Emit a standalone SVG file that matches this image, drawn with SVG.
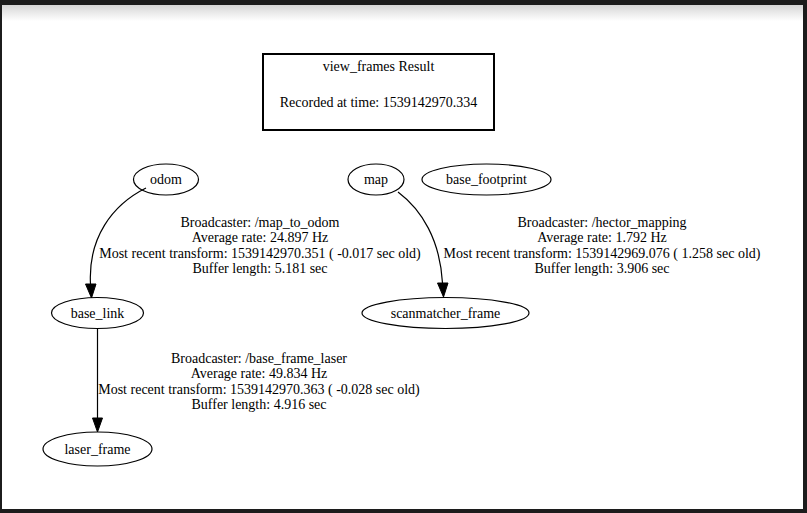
<svg xmlns="http://www.w3.org/2000/svg" width="807" height="513" viewBox="0 0 807 513">
<defs>
<linearGradient id="shade" x1="0" y1="0" x2="0" y2="1">
<stop offset="0" stop-color="#d6d6d6"/>
<stop offset="1" stop-color="#ffffff"/>
</linearGradient>
<style>
text{font-family:"Liberation Serif","Times New Roman",serif;font-size:14px;fill:#000;text-anchor:middle}
.node ellipse{fill:none;stroke:#000;stroke-width:1.2}
.edge path{fill:none;stroke:#000;stroke-width:1.2}
.edge polygon{fill:#000;stroke:#000;stroke-width:1}
</style>
</defs>
<rect x="0" y="0" width="807" height="513" fill="#1c1c1c"/>
<rect x="2" y="5" width="801" height="504" fill="#ffffff"/>
<rect x="2" y="5" width="801" height="16" fill="url(#shade)"/>

<g id="title">
<rect x="263" y="54" width="231" height="76" fill="none" stroke="#000" stroke-width="2"/>
<text x="378.5" y="70.5">view_frames Result</text>
<text x="378.5" y="107">Recorded at time: 1539142970.334</text>
</g>

<g id="connectors">
<g class="edge" id="e_odom_base_link">
<path d="M146,188 C112,205 88,238 90.5,284"/>
<polygon points="85.5,284 96,284 91.5,298"/>
<text x="260" y="226.5">Broadcaster: /map_to_odom</text>
<text x="260" y="242">Average rate: 24.897 Hz</text>
<text x="260" y="257.5">Most recent transform: 1539142970.351 ( -0.017 sec old)</text>
<text x="260" y="273">Buffer length: 5.181 sec</text>
</g>
<g class="edge" id="e_map_scanmatcher">
<path d="M398,192 C422,210 440,240 442.5,283"/>
<polygon points="437.5,283 448,283 443.5,297"/>
<text x="602" y="226.5">Broadcaster: /hector_mapping</text>
<text x="602" y="242">Average rate: 1.792 Hz</text>
<text x="602" y="257.5">Most recent transform: 1539142969.076 ( 1.258 sec old)</text>
<text x="602" y="273">Buffer length: 3.906 sec</text>
</g>
<g class="edge" id="e_base_link_laser">
<path d="M97.5,328 L97.5,418"/>
<polygon points="92.5,418 102.5,418 97.5,432"/>
<text x="259" y="362.5">Broadcaster: /base_frame_laser</text>
<text x="259" y="378">Average rate: 49.834 Hz</text>
<text x="259" y="393.5">Most recent transform: 1539142970.363 ( -0.028 sec old)</text>
<text x="259" y="409">Buffer length: 4.916 sec</text>
</g>
</g>

<g class="node" id="odom">
<ellipse cx="166" cy="179.5" rx="32.5" ry="15.5"/>
<text x="166" y="184">odom</text>
</g>
<g class="node" id="map">
<ellipse cx="376" cy="179.5" rx="28" ry="15.5"/>
<text x="376" y="184">map</text>
</g>
<g class="node" id="base_footprint">
<ellipse cx="486.5" cy="179.5" rx="64.5" ry="15.5"/>
<text x="486.5" y="184">base_footprint</text>
</g>
<g class="node" id="base_link">
<ellipse cx="97.5" cy="313" rx="46" ry="15.5"/>
<text x="97.5" y="317.5">base_link</text>
</g>
<g class="node" id="scanmatcher_frame">
<ellipse cx="445.5" cy="313" rx="83.5" ry="15.5"/>
<text x="445.5" y="317.5">scanmatcher_frame</text>
</g>
<g class="node" id="laser_frame">
<ellipse cx="97.5" cy="449" rx="54.5" ry="17"/>
<text x="97.5" y="453.5">laser_frame</text>
</g>
</svg>
